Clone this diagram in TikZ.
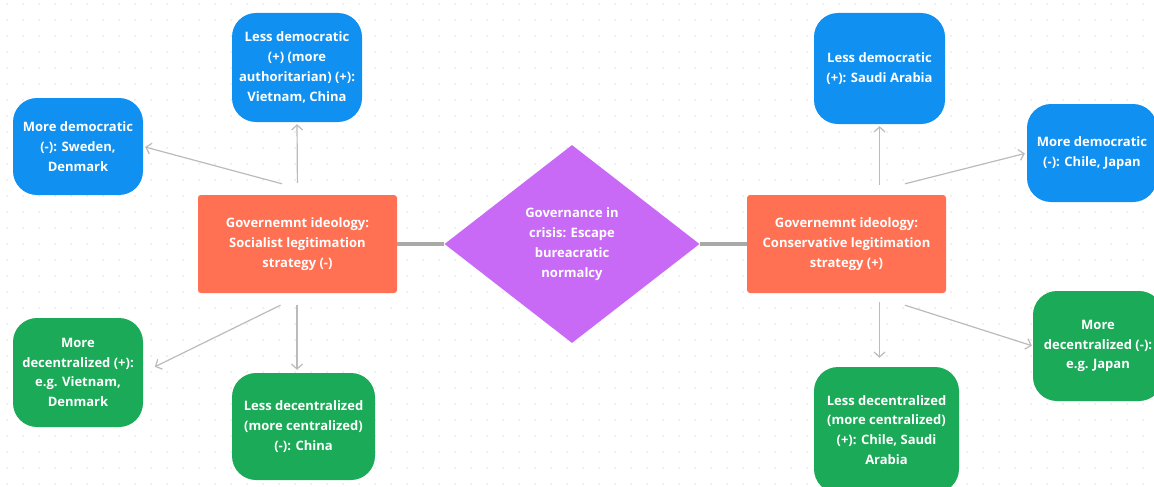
\documentclass[tikz,border=0pt]{standalone}
\usepackage{fontspec}
\setmainfont{Open Sans}
\usetikzlibrary{shapes.geometric,arrows.meta,calc}

\definecolor{demBlue}{HTML}{1090F0}
\definecolor{decGreen}{HTML}{1BAA57}
\definecolor{ideoOrange}{HTML}{FF7152}
\definecolor{crisisPurple}{HTML}{C86AF6}
\definecolor{linkGray}{HTML}{A9A9A9}
\definecolor{arrowGray}{HTML}{BBBBBB}
\definecolor{dotGray}{HTML}{E2E2E2}

\tikzset{
  box/.style={text=white, align=center, inner sep=0pt,
    font=\bfseries\fontsize{13}{19.8}\selectfont},
  blueBox/.style={box, fill=demBlue, rounded corners=24pt},
  greenBox/.style={box, fill=decGreen, rounded corners=24pt},
  ideoBox/.style={box, fill=ideoOrange, rounded corners=3pt,
    minimum width=199pt, minimum height=98pt},
  crisis/.style={box, diamond, fill=crisisPurple,
    minimum width=255pt, minimum height=198pt},
  link/.style={linkGray, line width=4pt},
  arr/.style={arrowGray, line width=1.2pt,
    -{Straight Barb[length=5pt,width=11pt]}},
}

\begin{document}
\begin{tikzpicture}[x=1pt,y=-1pt]

  % Canvas with dot grid
  \useasboundingbox (0,0) rectangle (1154,487);
  \fill[white] (0,0) rectangle (1154,487);
  \foreach \x in {7,23,...,1154}
    \foreach \y in {4,20,...,487}
      \fill[dotGray] (\x,\y) circle (0.9);

  % Centre: governance in crisis
  \node[crisis] (crisis) at (572,244) {Governance in\\crisis: Escape\\bureacratic\\normalcy};

  % Left: socialist legitimation
  \node[ideoBox] (lorg) at (297.5,244) {Governemnt ideology:\\Socialist legitimation\\strategy (-)};
  \node[blueBox, minimum width=130pt, minimum height=109pt] (lup) at (297,67.5)
    {Less democratic\\(+) (more\\authoritarian) (+):\\Vietnam, China};
  \node[blueBox, minimum width=130pt, minimum height=97pt] (lmd) at (78,146.5)
    {More democratic\\(-): Sweden,\\Denmark};
  \node[greenBox, minimum width=130pt, minimum height=109pt] (lmdc) at (78,372.5)
    {More\\decentralized (+):\\e.g. Vietnam,\\Denmark};
  \node[greenBox, minimum width=143pt, minimum height=107pt] (llc) at (303.5,426.5)
    {Less decentralized\\(more centralized)\\(-): China};

  % Right: conservative legitimation
  \node[ideoBox] (rorg) at (846.5,244) {Governemnt ideology:\\Conservative legitimation\\strategy (+)};
  \node[blueBox, minimum width=131pt, minimum height=111pt] (rup) at (879.5,68.5)
    {Less democratic\\(+): Saudi Arabia};
  \node[blueBox, minimum width=130pt, minimum height=98pt] (rmd) at (1092,153)
    {More democratic\\(-): Chile, Japan};
  \node[greenBox, minimum width=130pt, minimum height=110pt] (rmdc) at (1098,346)
    {More\\decentralized (-):\\e.g. Japan};
  \node[greenBox, minimum width=145pt, minimum height=126pt] (rlc) at (886.5,430)
    {Less decentralized\\(more centralized)\\(+): Chile, Saudi\\Arabia};

  % Links to the centre
  \draw[link] (lorg.east) -- (crisis.west);
  \draw[link] (crisis.east) -- (rorg.east -| rorg.west);

  % Arrows, left side
  \coordinate (lorgTop) at ($(lorg.north)+(-15.5,-11)$);
  \coordinate (lorgBot) at ($(lorg.south)+(-17,12)$);
  \draw[arr, shorten <=12pt, shorten >=2pt] (lorg.north) -- (lup.south);
  \draw[arr, shorten >=2pt] (lorgTop) -- (lmd.east);
  \draw[arr, shorten >=13pt] (lorgBot) -- (lmdc.east);
  \draw[arr, shorten <=12pt, shorten >=3pt] (lorg.south -| lup.south) -- (llc.north -| lup.south);

  % Arrows, right side
  \coordinate (rorgTop) at ($(rorg.north)+(58.5,-11)$);
  \coordinate (rorgBot) at ($(rorg.south)+(58.5,12)$);
  \draw[arr, shorten <=10pt, shorten >=2pt] (rorg.north -| rup.south) -- (rup.south);
  \draw[arr, shorten >=2pt] (rorgTop) -- (rmd.west);
  \draw[arr, shorten >=1pt] (rorgBot) -- (rmdc.west);
  \draw[arr, shorten <=9pt, shorten >=9pt] (rorg.south -| rup.south) -- (rlc.north -| rup.south);

\end{tikzpicture}
\end{document}
